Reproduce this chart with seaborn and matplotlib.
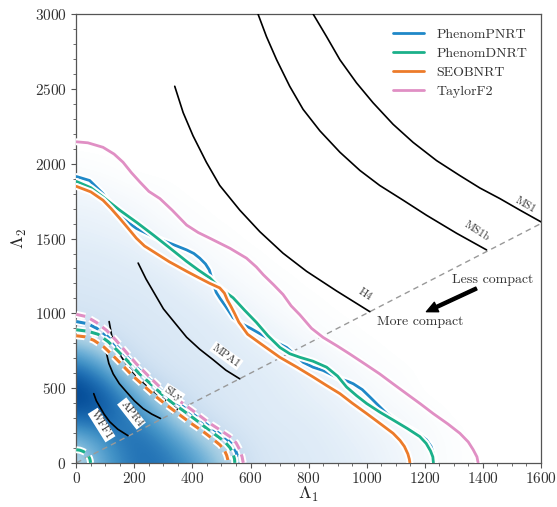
import numpy as np
import matplotlib
matplotlib.use("Agg")
import matplotlib.pyplot as plt
import matplotlib.patheffects as pe
from matplotlib.colors import ListedColormap
from matplotlib.ticker import MultipleLocator
import seaborn as sns

# 90% contours (solid)
pnrt_l1 = [0, 46, 92, 120, 150, 180, 207, 265, 322, 380, 405, 425, 445, 458, 466, 473, 482, 495, 515, 540, 570, 600, 655, 690, 724, 755, 781, 815, 850, 908, 935, 954, 985, 1011, 1040, 1069, 1100, 1137, 1175, 1206, 1222, 1230, 1235]
pnrt_l2 = [1915, 1888, 1800, 1720, 1656, 1605, 1568, 1513, 1469, 1424, 1400, 1369, 1330, 1290, 1240, 1190, 1140, 1100, 1045, 971, 930, 900, 839, 805, 772, 720, 673, 640, 618, 562, 545, 529, 490, 441, 385, 330, 285, 242, 200, 154, 110, 60, 0]
pdnrt_l1 = [0, 50, 92, 150, 210, 265, 320, 380, 420, 460, 494, 540, 580, 620, 660, 701, 735, 770, 815, 862, 900, 931, 965, 1000, 1045, 1091, 1140, 1183, 1205, 1220, 1228, 1230]
pdnrt_l2 = [1882, 1840, 1778, 1689, 1605, 1524, 1440, 1347, 1290, 1237, 1170, 1104, 1020, 940, 850, 772, 730, 706, 680, 640, 580, 507, 450, 397, 340, 287, 230, 176, 130, 80, 40, 0]
seob_l1 = [0, 50, 92, 120, 150, 180, 207, 235, 265, 320, 380, 420, 460, 494, 510, 520, 533, 545, 560, 590, 640, 701, 760, 816, 860, 908, 950, 1000, 1045, 1091, 1115, 1130, 1142, 1147, 1149]
seob_l2 = [1849, 1812, 1756, 1700, 1634, 1565, 1502, 1450, 1413, 1345, 1281, 1240, 1200, 1170, 1135, 1090, 1045, 1000, 940, 860, 790, 706, 640, 574, 520, 463, 400, 330, 265, 198, 150, 110, 60, 25, 0]
tf2_l1 = [0, 40, 92, 130, 161, 190, 219, 250, 288, 330, 380, 420, 460, 529, 586, 620, 644, 680, 712, 740, 770, 810, 850, 900, 942, 995, 1045, 1090, 1137, 1185, 1229, 1280, 1321, 1350, 1367, 1380, 1384]
tf2_l2 = [2147, 2140, 2110, 2065, 2010, 1940, 1878, 1815, 1767, 1690, 1590, 1540, 1502, 1435, 1369, 1310, 1258, 1190, 1126, 1050, 990, 900, 839, 780, 728, 660, 595, 530, 463, 395, 330, 260, 198, 140, 88, 40, 0]

# 50% contours (dashed)
pnrt50_l1 = [0, 40, 70, 105, 140, 175, 210, 250, 290, 330, 368, 410, 458, 490, 518, 538, 550, 557, 560]
pnrt50_l2 = [945, 930, 900, 850, 780, 710, 635, 560, 487, 425, 375, 315, 245, 200, 160, 120, 75, 35, 0]
pdnrt50_l1 = [0, 40, 75, 110, 145, 180, 215, 255, 293, 330, 368, 410, 455, 485, 512, 530, 540, 545, 546]
pdnrt50_l2 = [890, 880, 860, 810, 745, 675, 600, 530, 462, 402, 350, 290, 222, 180, 140, 100, 60, 25, 0]
seob50_l1 = [0, 30, 60, 95, 125, 158, 190, 230, 270, 310, 350, 395, 440, 470, 495, 510, 518, 522, 523]
seob50_l2 = [850, 843, 820, 775, 720, 655, 590, 520, 450, 388, 330, 265, 205, 160, 120, 85, 50, 20, 0]
tf250_l1 = [0, 35, 70, 105, 138, 172, 207, 248, 288, 328, 368, 415, 460, 497, 529, 550, 563, 571, 575]
tf250_l2 = [993, 978, 938, 885, 817, 740, 662, 582, 507, 448, 397, 330, 264, 218, 176, 135, 88, 40, 0]
pdnrt50_arc_l1 = [0, 12, 22, 31, 37, 42, 46, 48, 49]
pdnrt50_arc_l2 = [88, 85, 78, 69, 58, 45, 30, 15, 0]

models = ["PhenomPNRT", "PhenomDNRT", "SEOBNRT", "TaylorF2"]
model_colors = ["#1f88c8", "#1bb08a", "#ec7b2a", "#e08fc4"]

# EOS curves
eos_names = ["MS1", "MS1b", "H4", "MPA1", "SLy", "APR4", "WFF1"]
eos_l1 = [
    [816, 862, 908, 965, 1022, 1091, 1160, 1241, 1321, 1390, 1459, 1528, 1600],
    [626, 655, 690, 735, 781, 839, 908, 977, 1045, 1126, 1206, 1310, 1413],
    [339, 368, 402, 448, 494, 563, 632, 712, 793, 896, 1011],
    [213, 240, 270, 300, 334, 380, 425, 471, 515, 563],
    [113, 122, 138, 160, 184, 212, 242, 270, 299, 325, 351],
    [102, 112, 127, 148, 173, 200, 230, 260, 290],
    [60, 69, 81, 96, 115, 143, 178],
]
eos_l2 = [
    [3000, 2850, 2695, 2541, 2408, 2264, 2143, 2021, 1921, 1838, 1767, 1690, 1612],
    [3000, 2850, 2695, 2518, 2364, 2220, 2077, 1955, 1855, 1756, 1656, 1535, 1424],
    [2518, 2342, 2187, 2010, 1855, 1690, 1546, 1402, 1281, 1150, 1011],
    [1336, 1230, 1130, 1030, 949, 840, 760, 690, 620, 562],
    [945, 850, 772, 695, 629, 570, 518, 472, 430, 390, 353],
    [750, 665, 595, 530, 474, 415, 363, 326, 297],
    [463, 415, 375, 325, 275, 225, 182],
]
label_x = [1548, 1378, 994, 517, 334, 190, 87]
label_y = [1725, 1546, 1126, 717, 463, 330, 253]
label_rot = [-30, -33, -33, -36, -33, -52, -58]

# posterior density (relative), rows = Lambda2, cols = Lambda1
dens_l1 = np.arange(0, 1700, 100)
dens_l2 = np.arange(0, 2400, 150)
dens = np.array([
    [0.25, 0.55, 0.75, 0.75, 0.62, 0.38, 0.18, 0.15, 0.13, 0.11, 0.09, 0.06, 0.03, 0.01, 0, 0, 0],
    [0.42, 0.62, 0.78, 0.68, 0.45, 0.25, 0.16, 0.14, 0.12, 0.10, 0.08, 0.05, 0.03, 0.01, 0, 0, 0],
    [0.78, 0.82, 0.70, 0.47, 0.25, 0.17, 0.14, 0.12, 0.11, 0.09, 0.06, 0.04, 0.02, 0, 0, 0, 0],
    [0.95, 0.85, 0.55, 0.28, 0.18, 0.15, 0.13, 0.11, 0.09, 0.07, 0.04, 0.02, 0, 0, 0, 0, 0],
    [0.85, 0.62, 0.28, 0.18, 0.16, 0.14, 0.12, 0.10, 0.08, 0.05, 0.02, 0.01, 0, 0, 0, 0, 0],
    [0.52, 0.32, 0.18, 0.16, 0.14, 0.12, 0.10, 0.08, 0.05, 0.02, 0.01, 0, 0, 0, 0, 0, 0],
    [0.22, 0.18, 0.16, 0.15, 0.13, 0.11, 0.08, 0.05, 0.02, 0.01, 0, 0, 0, 0, 0, 0, 0],
    [0.17, 0.16, 0.15, 0.13, 0.11, 0.08, 0.05, 0.02, 0.01, 0, 0, 0, 0, 0, 0, 0, 0],
    [0.15, 0.14, 0.13, 0.11, 0.08, 0.05, 0.02, 0.01, 0, 0, 0, 0, 0, 0, 0, 0, 0],
    [0.13, 0.12, 0.10, 0.08, 0.05, 0.02, 0.01, 0, 0, 0, 0, 0, 0, 0, 0, 0, 0],
    [0.10, 0.09, 0.08, 0.05, 0.02, 0.01, 0, 0, 0, 0, 0, 0, 0, 0, 0, 0, 0],
    [0.08, 0.07, 0.05, 0.02, 0.01, 0, 0, 0, 0, 0, 0, 0, 0, 0, 0, 0, 0],
    [0.05, 0.04, 0.02, 0.01, 0, 0, 0, 0, 0, 0, 0, 0, 0, 0, 0, 0, 0],
    [0.02, 0.01, 0, 0, 0, 0, 0, 0, 0, 0, 0, 0, 0, 0, 0, 0, 0],
    [0, 0, 0, 0, 0, 0, 0, 0, 0, 0, 0, 0, 0, 0, 0, 0, 0],
    [0, 0, 0, 0, 0, 0, 0, 0, 0, 0, 0, 0, 0, 0, 0, 0, 0],
])

sns.set_theme(style="ticks")
plt.rcParams.update({
    "font.family": "serif",
    "font.serif": ["cmr10", "DejaVu Serif"],
    "mathtext.fontset": "cm",
    "axes.formatter.use_mathtext": True,
    "axes.edgecolor": "#555555",
    "xtick.color": "#555555",
    "ytick.color": "#555555",
    "xtick.labelcolor": "#333333",
    "ytick.labelcolor": "#333333",
})

fig = plt.figure(figsize=(5.57, 5.07), dpi=100)
ax = fig.add_axes([0.137, 0.087, 0.834, 0.885])

# white -> Blues colormap
blues = sns.color_palette("Blues", as_cmap=True)
low = np.linspace(np.array([1.0, 1.0, 1.0, 1.0]), np.array(blues(0.12)), 30)
cmap = ListedColormap(np.vstack([low, blues(np.linspace(0.12, 1.0, 226))]))
d1 = dens_l1[1] - dens_l1[0]
d2 = dens_l2[1] - dens_l2[0]
ax.imshow(np.clip(dens, 0, 1), origin="lower", cmap=cmap, vmin=0.0, vmax=1.0, aspect="auto",
          interpolation="bicubic", zorder=0,
          extent=[dens_l1[0] - d1 / 2, dens_l1[-1] + d1 / 2, dens_l2[0] - d2 / 2, dens_l2[-1] + d2 / 2])

halo = [pe.Stroke(linewidth=5, foreground="white"), pe.Normal()]

# equal-mass diagonal
sns.lineplot(x=[0, 1600], y=[0, 1600], ax=ax, color="#999999", lw=1.0, linestyle=(0, (4, 3)), zorder=2)

# EOS curves
for name, xs, ys in zip(eos_names, eos_l1, eos_l2):
    sns.lineplot(x=xs, y=ys, ax=ax, color="black", lw=1.2, sort=False, estimator=None, zorder=3)
for name, x, y, r in zip(eos_names, label_x, label_y, label_rot):
    ax.text(x, y, name, rotation=r, ha="center", va="center", fontsize=8, color="#333333", zorder=6,
            bbox=dict(facecolor="white", edgecolor="none", pad=0.8))

# 50% contours
dashed = [(pnrt50_l1, pnrt50_l2), (pdnrt50_l1, pdnrt50_l2), (seob50_l1, seob50_l2), (tf250_l1, tf250_l2)]
for (xs, ys), c in zip(dashed, model_colors):
    sns.lineplot(x=xs, y=ys, ax=ax, color=c, lw=2.2, sort=False, estimator=None, zorder=4)
    ax.lines[-1].set_dashes((3.0, 1.8))
    ax.lines[-1].set_path_effects(halo)
sns.lineplot(x=pdnrt50_arc_l1, y=pdnrt50_arc_l2, ax=ax, color=model_colors[1], lw=2.2, sort=False,
             estimator=None, zorder=4)
ax.lines[-1].set_dashes((3.0, 1.8))
ax.lines[-1].set_path_effects(halo)

# 90% contours
solid = [(pnrt_l1, pnrt_l2), (pdnrt_l1, pdnrt_l2), (seob_l1, seob_l2), (tf2_l1, tf2_l2)]
handles = []
for (xs, ys), c, m in zip(solid, model_colors, models):
    sns.lineplot(x=xs, y=ys, ax=ax, color=c, lw=2.0, sort=False, estimator=None, zorder=5)
    ax.lines[-1].set_path_effects(halo)
    handles.append(plt.Line2D([], [], color=c, lw=2.0))

ax.legend(handles, models, loc="upper right", frameon=False, fontsize=10, handlelength=2.2,
          handletextpad=0.9, borderaxespad=0.6, labelspacing=0.45, labelcolor="#333333")

ax.text(1435, 1225, "Less compact", ha="center", va="center", fontsize=10, color="#333333")
ax.text(1183, 945, "More compact", ha="center", va="center", fontsize=10, color="#333333")
ax.annotate("", xy=(1206, 1011), xytext=(1378, 1166),
            arrowprops=dict(facecolor="black", edgecolor="black", width=2.2, headwidth=7.5,
                            headlength=8, shrink=0))

ax.set_xlim(0, 1600)
ax.set_ylim(0, 3000)
ax.xaxis.set_major_locator(MultipleLocator(200))
ax.xaxis.set_minor_locator(MultipleLocator(50))
ax.yaxis.set_major_locator(MultipleLocator(500))
ax.yaxis.set_minor_locator(MultipleLocator(100))
ax.tick_params(axis="x", which="major", pad=2.5)
ax.tick_params(which="major", length=3.5, width=0.8, labelsize=11)
ax.tick_params(which="minor", length=2, width=0.6)
ax.set_xlabel(r"$\Lambda_1$", fontsize=13, labelpad=-1)
ax.set_ylabel(r"$\Lambda_2$", fontsize=13, labelpad=4)
for s in ax.spines.values():
    s.set_linewidth(0.9)

fig.savefig("out.png", dpi=100)
